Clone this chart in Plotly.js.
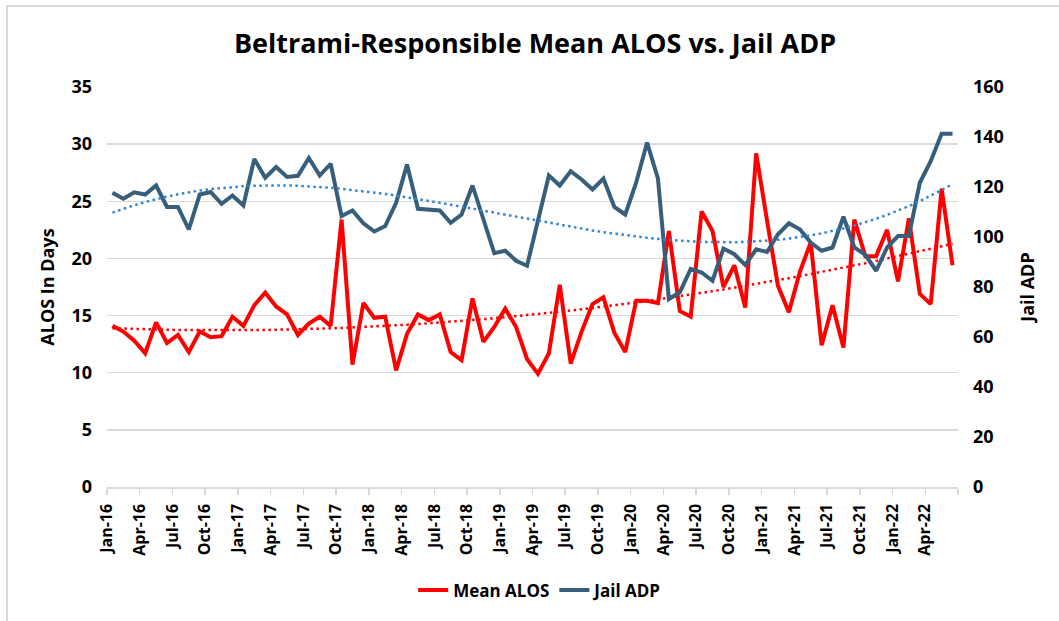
<!DOCTYPE html>
<html><head><meta charset="utf-8">
<script src="https://cdn.plot.ly/plotly-3.0.1.min.js"></script>
<style>
html,body{margin:0;padding:0;background:#fff;overflow:hidden;}
#chart{position:absolute;left:0;top:0;width:1059px;height:621px;}
#frame{position:absolute;left:6px;top:5px;width:1200px;height:800px;border:2px solid #d9d9d9;pointer-events:none;}
</style></head><body>
<div id="chart"></div><div id="frame"></div>
<script>
const months = ["Jan-16","Feb-16","Mar-16","Apr-16","May-16","Jun-16","Jul-16","Aug-16","Sep-16","Oct-16","Nov-16","Dec-16",
"Jan-17","Feb-17","Mar-17","Apr-17","May-17","Jun-17","Jul-17","Aug-17","Sep-17","Oct-17","Nov-17","Dec-17",
"Jan-18","Feb-18","Mar-18","Apr-18","May-18","Jun-18","Jul-18","Aug-18","Sep-18","Oct-18","Nov-18","Dec-18",
"Jan-19","Feb-19","Mar-19","Apr-19","May-19","Jun-19","Jul-19","Aug-19","Sep-19","Oct-19","Nov-19","Dec-19",
"Jan-20","Feb-20","Mar-20","Apr-20","May-20","Jun-20","Jul-20","Aug-20","Sep-20","Oct-20","Nov-20","Dec-20",
"Jan-21","Feb-21","Mar-21","Apr-21","May-21","Jun-21","Jul-21","Aug-21","Sep-21","Oct-21","Nov-21","Dec-21",
"Jan-22","Feb-22","Mar-22","Apr-22","May-22","Jun-22"];

const meanALOS = [14.1,13.6,12.8,11.7,14.4,12.6,13.3,11.8,13.6,13.1,
13.2,14.9,14.1,15.9,17.0,15.8,15.1,13.3,14.3,14.9,
14.1,23.4,10.7,16.1,14.8,14.9,10.2,13.4,15.1,14.6,
15.1,11.8,11.1,16.5,12.7,14.0,15.6,14.0,11.2,9.9,
11.7,17.7,10.8,13.6,16.0,16.6,13.5,11.8,16.3,16.3,
16.1,22.4,15.4,14.9,24.1,22.4,17.5,19.4,15.7,29.2,
23.3,17.6,15.3,18.8,21.4,12.4,15.9,12.2,23.4,20.2,
20.2,22.5,18.0,23.5,16.9,16.0,26.1,19.4];

const jailADP = [117.7,115.3,117.9,117,120.6,112,112,103,117,118,
113.3,116.6,112.6,131.2,123.7,128,124,124.5,131.6,124.6,
129.3,108.4,110.6,105.5,102.2,104.4,113.7,129,111.3,111,
110.6,105.7,109,120.6,107,93.5,94.5,90.5,88.5,107,
124.6,120.6,126.3,123,119,123.4,112,109,121.7,137.8,
123.3,75.2,77.9,87.2,85.8,82.5,95.4,93.1,88.8,95.1,
94,101.1,105.5,103.1,97.8,94.5,95.8,108.1,95.8,92.9,
86.5,95.8,100.4,100.4,121.7,130.3,141.3,141.3];

const labelEvery = 3;
const alosTrendOrder = 2;
const adpTrendOrder = 3;

// polynomial least-squares trendline (as Excel computes it)
function polyTrend(ys, order) {
  const n = ys.length, c = (n - 1) / 2;
  const ts = ys.map((_, i) => (i - c) / c);
  const m = order + 1;
  const A = Array.from({length: m}, () => new Array(m).fill(0));
  const b = new Array(m).fill(0);
  ts.forEach((t, i) => {
    const p = []; for (let k = 0; k < m; k++) p.push(Math.pow(t, k));
    for (let j = 0; j < m; j++) { b[j] += p[j] * ys[i]; for (let k = 0; k < m; k++) A[j][k] += p[j] * p[k]; }
  });
  for (let col = 0; col < m; col++) {
    let piv = col;
    for (let r = col + 1; r < m; r++) if (Math.abs(A[r][col]) > Math.abs(A[piv][col])) piv = r;
    [A[col], A[piv]] = [A[piv], A[col]]; [b[col], b[piv]] = [b[piv], b[col]];
    for (let r = 0; r < m; r++) {
      if (r === col) continue;
      const f = A[r][col] / A[col][col];
      for (let k = col; k < m; k++) A[r][k] -= f * A[col][k];
      b[r] -= f * b[col];
    }
  }
  const coef = b.map((v, i) => v / A[i][i]);
  return ts.map(t => coef.reduce((s, a, k) => s + a * Math.pow(t, k), 0));
}

const xs = months.map((_, i) => i);
const tickPos = [], tickTxt = [];
for (let i = 0; i <= months.length; i += labelEvery) {
  tickPos.push(i - 0.5);
  tickTxt.push(i < months.length ? months[i] : "");
}
if (tickPos[tickPos.length - 1] !== months.length - 0.5) { tickPos.push(months.length - 0.5); tickTxt.push(""); }

const FONT = "Open Sans";
const fnt = (size) => ({family: FONT, size: size, color: "#000", weight: 700});

const traces = [
  {x: xs, y: meanALOS, name: "Mean ALOS", type: "scatter", mode: "lines",
   line: {color: "#FF0000", width: 4}, yaxis: "y"},
  {x: xs, y: jailADP, name: "Jail ADP", type: "scatter", mode: "lines",
   line: {color: "#375E7A", width: 4}, yaxis: "y2"},
  {x: xs, y: polyTrend(meanALOS, alosTrendOrder), name: "Poly. (Mean ALOS)", type: "scatter", mode: "lines",
   line: {color: "#FF0000", width: 2.5, dash: "2.5px,3.5px"}, yaxis: "y", showlegend: false},
  {x: xs, y: polyTrend(jailADP, adpTrendOrder), name: "Poly. (Jail ADP)", type: "scatter", mode: "lines",
   line: {color: "#2F86D6", width: 2.5, dash: "2.5px,3.5px"}, yaxis: "y2", showlegend: false}
];

const plotW = 1059 - 107 - 101;
const layout = {
  width: 1059, height: 621,
  margin: {l: 107, r: 101, t: 87, b: 132},
  paper_bgcolor: "rgba(0,0,0,0)", plot_bgcolor: "rgba(0,0,0,0)",
  showlegend: true,
  title: {text: "Beltrami-Responsible Mean ALOS vs. Jail ADP", font: fnt(27),
          x: 0.503, xref: "paper", xanchor: "center", y: 1 - 44/621, yref: "container", yanchor: "middle"},
  xaxis: {range: [-0.5, months.length - 0.5], tickmode: "array", tickvals: tickPos, ticktext: tickTxt,
          tickangle: -90, ticks: "outside", ticklen: 6, tickwidth: 1.5, tickcolor: "#d9d9d9",
          ticklabelshift: plotW / months.length / 2, ticklabelstandoff: 3,
          tickfont: fnt(16), showline: true, linecolor: "#d9d9d9", linewidth: 1.5,
          showgrid: false, zeroline: false, fixedrange: true},
  yaxis: {range: [0, 35], dtick: 5, tick0: 0, tickfont: fnt(18), showgrid: true, gridcolor: "#d9d9d9", gridwidth: 1.5,
          zeroline: false, showline: false, ticks: "", ticklabelstandoff: 14,
          title: {text: "ALOS In Days", font: fnt(18), standoff: 12}},
  yaxis2: {range: [0, 160], dtick: 20, tick0: 0, overlaying: "y", side: "right", tickfont: fnt(18),
           showgrid: false, zeroline: false, showline: false, ticks: "", ticklabelstandoff: 14,
           title: {text: "Jail ADP", font: fnt(18), standoff: 18}},
  legend: {orientation: "h", x: 0.509, xanchor: "center", y: (489 - 593) / 402, yanchor: "middle",
           font: fnt(17), bgcolor: "rgba(0,0,0,0)"},
  hovermode: false
};

Plotly.newPlot("chart", traces, layout, {displayModeBar: false, staticPlot: true});
</script>
</body></html>
